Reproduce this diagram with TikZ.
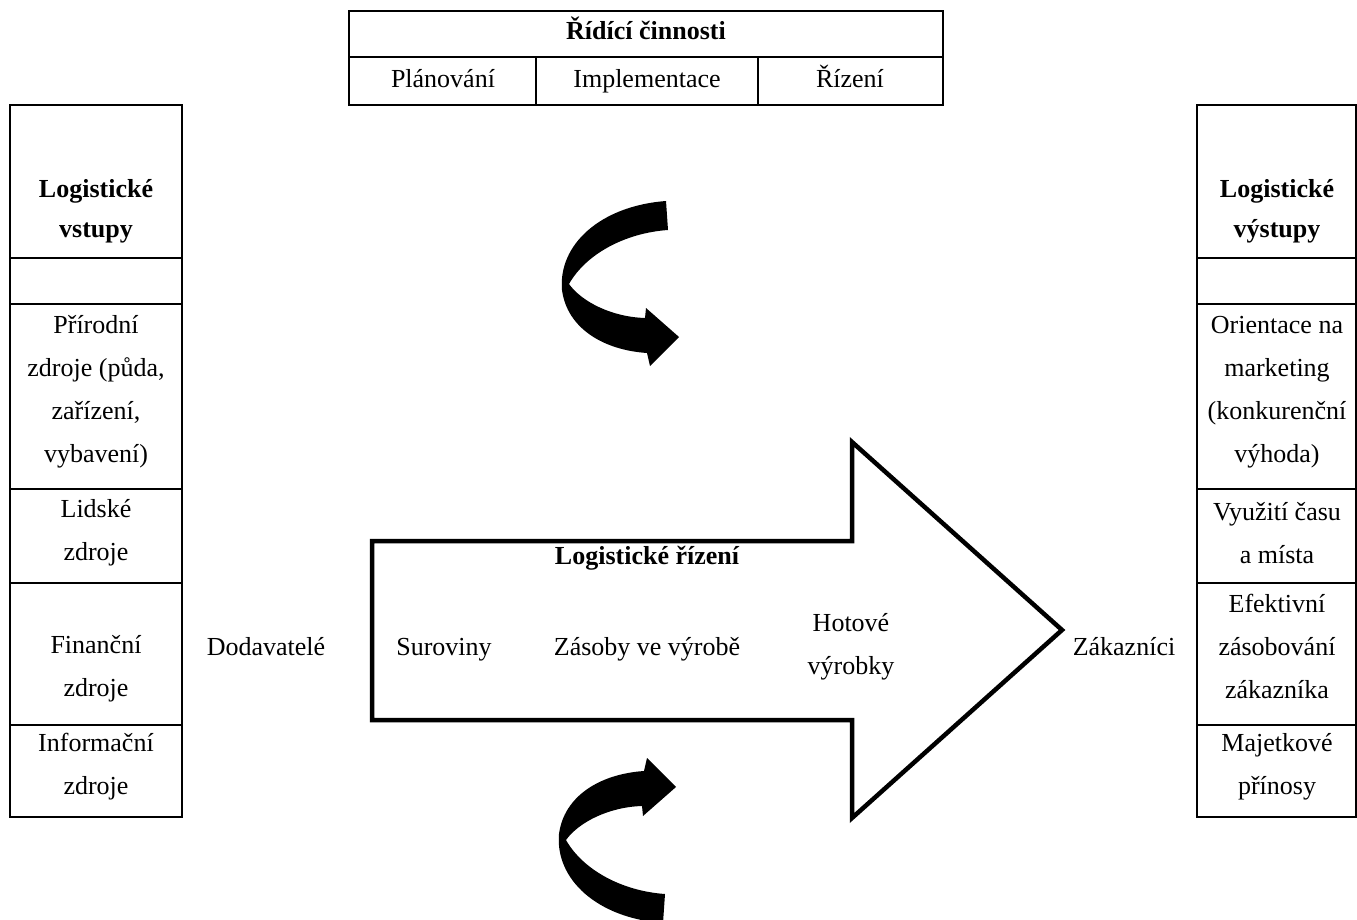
\documentclass[tikz,border=0pt]{standalone}
\usepackage{fontspec}
\setmainfont{Liberation Serif}
\begin{document}
\begin{tikzpicture}[x=1pt,y=-1pt,
  txt/.style={font=\fontsize{26}{43}\selectfont, align=center, inner sep=0pt},
  one/.style={txt, text height=19pt, text depth=6pt},
  hd/.style={txt, font=\fontsize{26}{40}\selectfont\bfseries},
  grid/.style={draw=black, line width=1.6pt},
  flow/.style={draw=black, line width=4.5pt, miter limit=10},
  bend arrow/.pic={
    \fill[black] (666,201) -- (668,230)
      .. controls (625,233) and (586,254) .. (569,284)
      .. controls (582,302) and (612,317) .. (645,318)
      -- (646,308) -- (679,337) -- (650,366) -- (647,353)
      .. controls (603,350) and (567,328) .. (562,290)
      .. controls (558,245) and (600,206) .. (666,201) -- cycle;
  }]
\useasboundingbox (0,0) rectangle (1357,920);

% management activities table
\draw[grid] (349,11) rectangle (943,105);
\draw[grid] (349,57) -- (943,57);
\draw[grid] (536,57) -- (536,105);
\draw[grid] (758,57) -- (758,105);
\node[hd, text height=19pt, text depth=6pt] (ridici) at (646,33) {Řídící činnosti};
\node[one] (plan) at (443,81) {Plánování};
\node[one] (impl) at (647,81) {Implementace};
\node[one] (riz) at (850,81) {Řízení};

% logistic inputs column
\draw[grid] (10,105) rectangle (182,817);
\foreach \yy in {258,304,489,583,725} \draw[grid] (10,\yy) -- (182,\yy);
\node[hd] (vstupy) at (96,211) {Logistické\\vstupy};
\node[txt] (prir) at (96,392) {Přírodní\\zdroje (půda,\\zařízení,\\vybavení)};
\node[txt] (lids) at (96,533) {Lidské\\zdroje};
\node[txt] (fin) at (96,669) {Finanční\\zdroje};
\node[txt] (info) at (96,767) {Informační\\zdroje};

% logistic outputs column
\draw[grid] (1197,105) rectangle (1356,817);
\foreach \yy in {258,304,489,583,725} \draw[grid] (1197,\yy) -- (1356,\yy);
\node[hd] (vystupy) at (1277,211) {Logistické\\výstupy};
\node[txt] (orient) at (1277,392) {Orientace na\\marketing\\(konkurenční\\výhoda)};
\node[txt] (cas) at (1277,533) {Využití času\\a místa};
\node[txt] (efekt) at (1277,646) {Efektivní\\zásobování\\zákazníka};
\node[txt] (majet) at (1277,767) {Majetkové\\přínosy};

% main logistic flow arrow
\draw[flow] (372,541) -- (852,541) -- (852,442) -- (1062,630) -- (852,818)
  -- (852,720) -- (372,720) -- cycle;
\node[hd, text height=19pt, text depth=6pt] (lrizeni) at (647,558) {Logistické řízení};
\node[one] (surov) at (444,649) {Suroviny};
\node[one] (zasoby) at (647,649) {Zásoby ve výrobě};
\node[txt] (hotove) at (851,647) {Hotové\\výrobky};
\node[one] (dodav) at (266,649) {Dodavatelé};
\node[one] (zakaz) at (1124,649) {Zákazníci};

% curved feedback arrows
\pic at (0,0) {bend arrow};
\pic[yscale=-1] at (-3,1124) {bend arrow};
\end{tikzpicture}
\end{document}
